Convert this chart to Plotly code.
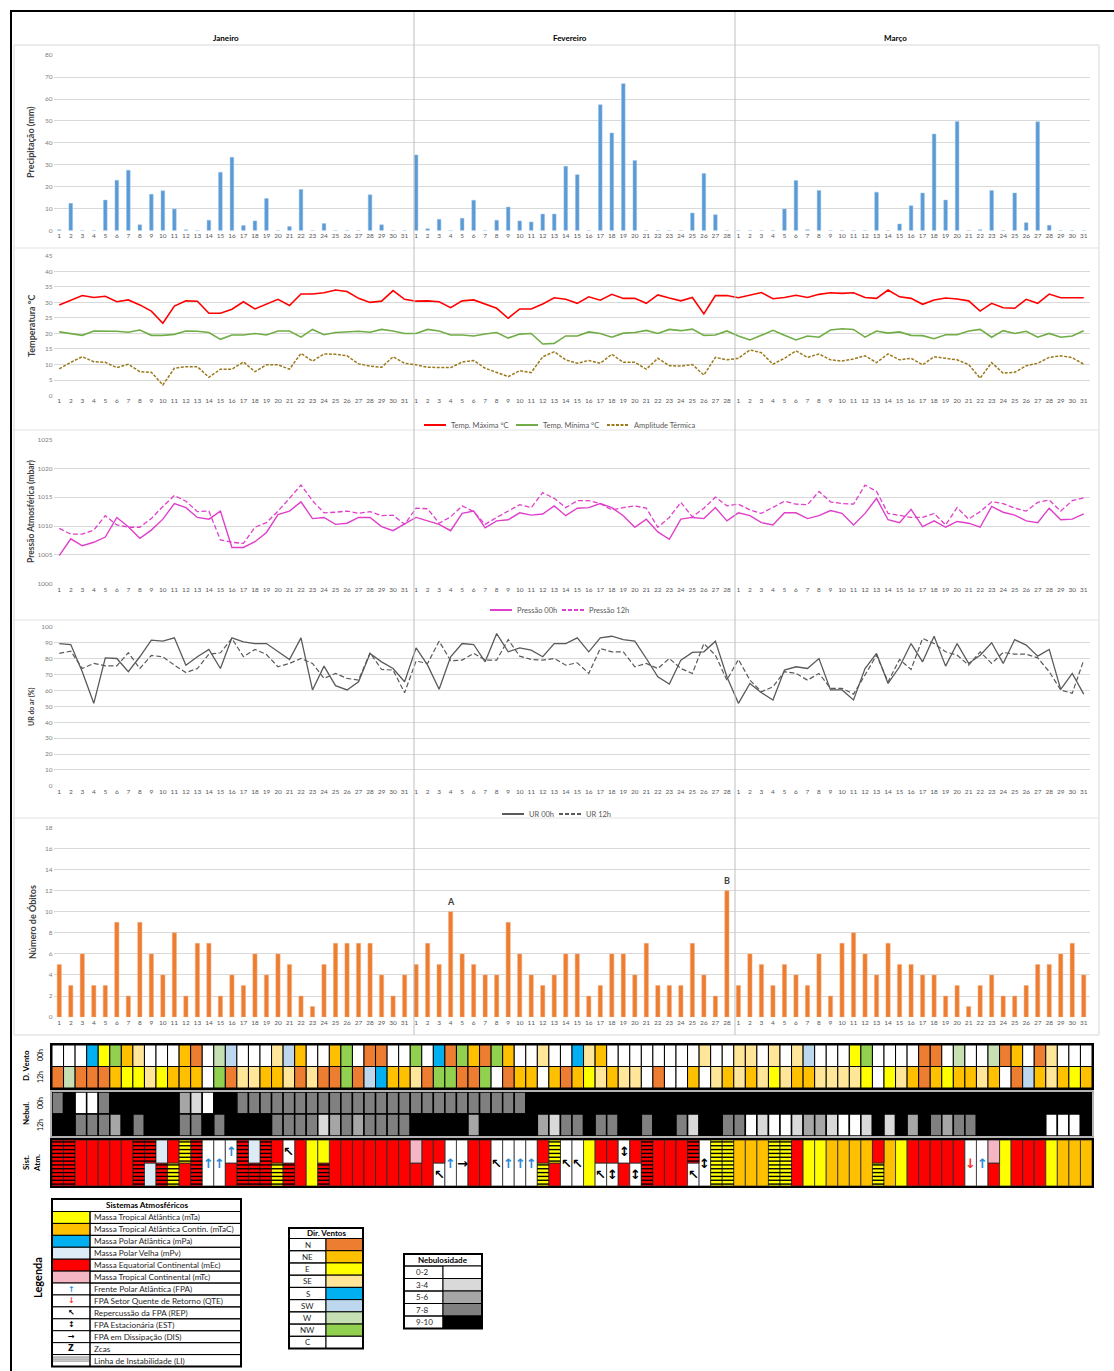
import plotly.graph_objects as go

W, H = 1114, 1371
FONTE = "Lato, 'Open Sans', 'DejaVu Sans', sans-serif"
SIMB = "DejaVu Sans"
CINZA_TXT = "#595959"


def fx(p):
    return p / W


def fy(p):
    return 1 - p / H


# ---------------- dados ----------------
meses = ["Janeiro", "Fevereiro", "Março"]
dias_mes = [31, 28, 31]
dias = [str(d) for n in dias_mes for d in range(1, n + 1)]
idx = list(range(len(dias)))

precipitacao = [
    0.3, 12.4, 0, 0, 13.9, 22.9, 27.5, 2.6, 16.5, 18.1,
    9.8, 0.3, 0, 4.7, 26.6, 33.4, 2.3, 4.4, 14.6, 0,
    1.8, 18.7, 0, 3.2, 0, 0, 0, 16.3, 2.6, 0, 0,
    34.5, 0.8, 5.1, 0, 5.6, 13.8, 0, 4.7, 10.7, 4.4,
    3.9, 7.5, 7.5, 29.3, 25.5, 0, 57.4, 44.5, 67.0, 32.0,
    0, 0, 0, 0, 8.0, 26.0, 7.2, 0,
    0, 0, 0, 0, 9.8, 22.8, 0.4, 18.3, 0, 0,
    0, 0, 17.5, 0, 3.0, 11.3, 17.1, 44.0, 13.9, 49.7,
    0, 0.4, 18.3, 0, 17.1, 3.6, 49.6, 2.4, 0, 0, 0,
]

temp_max = [
    29.2, 30.8, 32.2, 31.6, 32.0, 30.2, 30.8, 29.2, 27.2, 23.3,
    28.8, 30.5, 30.4, 26.5, 26.5, 27.8, 30.2, 27.9, 29.4, 31.0,
    29.0, 32.7, 32.7, 33.1, 34.0, 33.5, 31.3, 30.0, 30.4, 33.8, 31.0,
    30.4, 30.5, 30.2, 28.3, 30.5, 30.8, 29.4, 28.1, 24.9, 27.9,
    27.9, 29.5, 31.5, 31.0, 29.7, 31.8, 30.7, 32.6, 31.3, 31.3,
    29.7, 32.4, 31.4, 30.5, 31.6, 26.3, 32.2, 32.2,
    31.5, 32.3, 33.2, 31.2, 31.6, 32.3, 31.6, 32.6, 33.1, 32.9,
    33.1, 31.6, 31.3, 34.0, 31.8, 31.3, 29.4, 30.8, 31.4, 31.1,
    30.5, 27.2, 29.7, 28.3, 28.1, 31.0, 29.7, 32.7, 31.5, 31.5, 31.5,
]

temp_min = [
    20.5, 19.9, 19.4, 20.8, 20.8, 20.7, 20.4, 21.1, 19.4, 19.4,
    19.7, 20.8, 20.7, 20.3, 18.1, 19.5, 19.5, 20.0, 19.5, 20.8,
    20.8, 18.8, 21.3, 19.6, 20.3, 20.5, 20.7, 20.4, 21.3, 20.8, 20.0,
    20.0, 21.3, 20.8, 19.5, 19.5, 19.2, 19.8, 20.3, 18.5, 19.8,
    20.0, 16.6, 16.8, 19.2, 19.2, 20.5, 20.0, 18.8, 20.1, 20.3,
    21.0, 20.0, 21.3, 20.9, 21.4, 19.4, 19.5, 20.8,
    19.2, 17.9, 19.4, 21.0, 19.4, 17.9, 19.2, 18.8, 21.1, 21.5,
    21.3, 18.8, 20.8, 20.1, 20.5, 19.4, 19.3, 18.3, 19.6, 19.6,
    20.8, 21.3, 18.8, 20.9, 20.0, 20.7, 18.8, 20.0, 18.8, 19.2, 20.9,
]

amplitude = [
    8.6, 10.7, 12.5, 10.9, 10.7, 9.0, 10.1, 7.7, 7.5, 3.4,
    8.8, 9.3, 9.3, 5.9, 8.5, 8.5, 10.8, 7.7, 9.9, 9.9,
    8.5, 13.6, 11.1, 13.4, 13.3, 12.8, 10.2, 9.5, 9.1, 12.5, 10.4,
    9.9, 9.1, 9.0, 9.0, 10.8, 11.3, 8.8, 7.4, 6.1, 8.0,
    7.4, 12.5, 14.1, 11.5, 10.4, 11.3, 10.4, 13.3, 10.7, 10.7,
    8.5, 12.0, 9.6, 9.5, 10.0, 6.6, 12.3, 11.5,
    12.0, 14.7, 13.8, 10.1, 12.0, 14.4, 12.3, 13.4, 11.5, 11.1,
    11.8, 12.8, 10.6, 13.4, 11.5, 12.0, 9.9, 12.5, 12.0, 11.5,
    10.0, 5.6, 10.6, 7.2, 7.5, 9.6, 10.4, 12.3, 12.8, 12.2, 10.1,
]

pressao_00h = [
    1004.9, 1007.8, 1006.6, 1007.2, 1008.1, 1011.5, 1009.9, 1007.9, 1009.3, 1011.2,
    1013.9, 1013.2, 1011.5, 1011.2, 1012.6, 1006.3, 1006.3, 1007.3, 1008.9, 1012.0,
    1012.6, 1014.2, 1011.3, 1011.5, 1010.3, 1010.5, 1011.5, 1011.5, 1009.9, 1009.2, 1010.4,
    1011.5, 1010.9, 1010.3, 1009.2, 1012.2, 1012.6, 1009.7, 1010.9, 1011.1, 1012.3,
    1011.9, 1012.1, 1013.5, 1011.8, 1013.1, 1013.2, 1013.9, 1013.2, 1011.8, 1009.8,
    1011.2, 1009.0, 1007.7, 1011.2, 1011.5, 1011.3, 1013.2, 1010.9,
    1012.3, 1011.8, 1010.6, 1010.2, 1012.3, 1012.3, 1011.3, 1011.8, 1012.7, 1012.2,
    1010.2, 1012.2, 1014.8, 1011.1, 1010.6, 1012.9, 1009.9, 1010.9, 1009.8, 1010.8,
    1010.5, 1009.8, 1013.4, 1012.4, 1011.9, 1010.9, 1010.6, 1013.1, 1011.1, 1011.2, 1012.1,
]

pressao_12h = [
    1009.6, 1008.6, 1008.6, 1009.3, 1011.8, 1010.2, 1009.8, 1009.8, 1011.3, 1013.4,
    1015.3, 1014.3, 1012.5, 1012.6, 1007.6, 1007.2, 1007.0, 1009.8, 1010.6, 1012.6,
    1014.8, 1017.1, 1014.4, 1012.3, 1012.4, 1012.6, 1012.2, 1012.5, 1011.8, 1011.9, 1010.3,
    1013.1, 1013.0, 1010.5, 1011.6, 1013.5, 1012.5, 1010.3, 1011.5, 1012.6, 1013.7,
    1013.2, 1015.8, 1014.8, 1013.2, 1014.4, 1014.4, 1013.9, 1012.8, 1013.2, 1013.5,
    1013.1, 1009.8, 1011.5, 1014.1, 1011.6, 1013.1, 1015.0, 1013.5,
    1013.8, 1012.8, 1012.2, 1013.2, 1014.3, 1013.8, 1013.7, 1016.0, 1014.2, 1013.9,
    1013.8, 1017.1, 1016.0, 1012.2, 1011.8, 1011.5, 1011.5, 1012.2, 1010.2, 1013.2,
    1011.2, 1012.5, 1014.2, 1013.9, 1013.1, 1012.6, 1014.1, 1014.5, 1012.6, 1014.4, 1014.9,
]

ur_00h = [
    89.5, 88.9, 71.8, 51.9, 80.5, 80.1, 71.8, 81.2, 91.6, 91.0,
    93.1, 75.9, 81.2, 85.8, 73.8, 93.1, 90.6, 89.5, 89.5, 84.3,
    79.5, 93.1, 60.3, 75.3, 63.0, 60.3, 65.5, 83.3, 78.0, 73.8, 65.5,
    86.8, 75.9, 60.7, 81.2, 89.5, 88.9, 78.0, 95.8, 84.3, 86.8,
    85.4, 81.2, 89.5, 89.5, 93.1, 84.3, 93.1, 94.1, 92.0, 91.0,
    80.1, 68.6, 64.0, 79.1, 83.9, 84.3, 91.0, 68.6,
    51.9, 64.4, 58.6, 54.0, 72.8, 74.9, 73.8, 80.1, 60.3, 60.3,
    54.0, 73.8, 83.3, 64.4, 74.9, 89.5, 78.0, 94.1, 75.3, 89.5,
    77.0, 82.2, 90.0, 77.0, 92.0, 88.5, 81.6, 85.8, 60.7, 70.7, 57.7,
]

ur_12h = [
    83.3, 84.7, 73.8, 77.0, 75.5, 75.5, 83.7, 73.8, 82.0, 81.2,
    75.9, 71.3, 73.8, 82.8, 83.7, 92.7, 81.2, 85.8, 82.6, 74.9,
    77.0, 80.1, 77.0, 67.6, 70.7, 67.6, 66.5, 83.7, 73.2, 72.8, 58.6,
    78.5, 77.0, 91.0, 78.7, 79.1, 83.3, 79.1, 79.1, 92.0, 81.6,
    79.5, 79.1, 80.1, 75.9, 77.4, 70.7, 86.4, 84.3, 84.3, 74.9,
    77.0, 73.8, 80.1, 73.8, 70.7, 89.5, 82.2, 66.5,
    79.5, 66.5, 59.2, 62.3, 71.8, 70.7, 66.5, 70.7, 61.3, 61.3,
    57.7, 69.7, 82.2, 65.5, 79.5, 73.2, 92.7, 89.5, 84.3, 82.2,
    75.9, 84.3, 77.0, 83.9, 82.8, 82.8, 80.5, 71.8, 60.3, 58.2, 79.1,
]

obitos = [
    5, 3, 6, 3, 3, 9, 2, 9, 6, 4, 8, 2, 7, 7, 2, 4, 3, 6, 4, 6,
    5, 2, 1, 5, 7, 7, 7, 7, 4, 2, 4,
    5, 7, 5, 10, 6, 5, 4, 4, 9, 6, 4, 3, 4, 6, 6, 2, 3, 6, 6, 4,
    7, 3, 3, 3, 7, 4, 2, 12,
    3, 6, 5, 3, 5, 4, 3, 6, 2, 7, 8, 6, 4, 7, 5, 5, 4, 4, 2, 3,
    1, 3, 4, 2, 2, 3, 5, 5, 6, 7, 4,
]

# dias destacados no gráfico de óbitos (rótulo, dia do período)
destaques = [("A", 31 + 4), ("B", 31 + 28)]

vento_00h = (
    "C C C S E NW NE SE C C C NE N C W SW C C C SE SW NE C C NE NW C N N C C "
    "NW C S N NW NE N NW NE C C SE C C S SE NE C C C C C C C C SE C C "
    "SE SE C SE C SE SW C C C E NW C C C C N N C W C C W N NE C N SE C C C"
).split()
vento_12h = (
    "N W N N N NE E E SE E NE NE NE C NW N SE SE NE NE SE N SE N N NW N SW S NE NE "
    "SE N NW NW N N NW C N NE NE C NE N NE E SE NE SE SE C N C C NE C SE NE "
    "SE NE SE E SE NE NE SE SE SE SE E C E SE NE N NE E NE NE SE NE C N SW NE SE NE E NE"
).split()

nebul_00h = (
    ["7-8", "9-10", "0-2", "0-2", "7-8"] + ["9-10"] * 6 + ["5-6", "3-4", "0-2", "9-10", "9-10"]
    + ["7-8"] * 25 + ["9-10"] * 49
)
nebul_12h = (
    "9-10 9-10 7-8 7-8 7-8 5-6 9-10 7-8 9-10 9-10 9-10 7-8 7-8 9-10 7-8 9-10 9-10 9-10 9-10 "
    "7-8 7-8 7-8 7-8 3-4 5-6 7-8 5-6 7-8 7-8 7-8 7-8 9-10 9-10 9-10 9-10 9-10 5-6 "
    "9-10 9-10 9-10 9-10 9-10 5-6 3-4 7-8 7-8 9-10 7-8 7-8 9-10 9-10 7-8 9-10 9-10 7-8 3-4 "
    "9-10 9-10 7-8 7-8 0-2 3-4 0-2 0-2 3-4 5-6 5-6 3-4 0-2 0-2 3-4 9-10 3-4 9-10 5-6 9-10 "
    "7-8 5-6 7-8 7-8 9-10 9-10 9-10 9-10 9-10 9-10 0-2 0-2 0-2 9-10"
).split()

# sistema atmosférico de cada dia: metade superior / metade inferior da célula
sist_topo = (
    "mEc+LI mEc+LI mEc mEc mEc mEc mEc mEc+LI mEc+LI mPv mEc mTa+LI mEc+LI FPA FPA FPA "
    "mEc+LI mPv mEc+LI mEc REP mEc mTa mTa mEc mEc mEc mEc mEc mEc mEc "
    "mTc mEc mEc FPA DIS mEc mEc REP FPA FPA FPA mEc mTa+LI REP REP mTa mEc mEc EST mEc "
    "mEc+LI mEc mEc mEc mEc+LI EST mTa+LI mTa+LI "
    "mTaC mTaC mTaC mTa+LI mTa+LI mEc mTa mTa mTaC mTaC mTaC mTaC mEc mTaC mTa "
    "mEc mEc mEc mEc mEc QTE FPA mTc mTa mEc mEc mEc mTa mTaC mTaC mTaC"
).split()
sist_base = (
    "mEc+LI mEc+LI mEc mEc mEc mEc mEc mEc+LI mPv mEc+LI mTa+LI mEc mEc+LI FPA FPA mEc "
    "mEc+LI mEc+LI mEc+LI mTa+LI mEc+LI mEc mTa mEc+LI mEc mEc mEc mEc mEc mEc mEc "
    "mEc mEc REP FPA DIS mEc mEc REP FPA FPA FPA mTa+LI mEc REP REP mTa REP EST mEc EST "
    "mEc+LI mEc mEc mEc REP EST mTa+LI mTa+LI "
    "mTaC mTaC mTaC mTa+LI mTa+LI mEc mTa mTa mTaC mTaC mTaC mTaC mTa+LI mTaC mTa "
    "mEc mEc mEc mEc mEc QTE FPA mEc mTa mEc mEc mEc mTa mTaC mTaC mTaC"
).split()

cores_vento = {"N": "#ED7D31", "NE": "#FFC000", "E": "#FFFF00", "SE": "#FFE699",
               "S": "#00B0F0", "SW": "#BDD7EE", "W": "#C6E0B4", "NW": "#92D050", "C": "#FFFFFF"}
cores_nebul = {"0-2": "#FFFFFF", "3-4": "#D9D9D9", "5-6": "#A6A6A6", "7-8": "#808080", "9-10": "#000000"}
cores_massa = {"mTa": "#FFFF00", "mTaC": "#FFC000", "mPa": "#00B0F0", "mPv": "#DDEBF7",
               "mEc": "#FF0000", "mTc": "#F4B6C2"}
simbolos = {"FPA": ("↑", "#2E8BD8"), "QTE": ("↓", "#FF2A2A"), "REP": ("↖", "#000000"),
            "EST": ("↕", "#000000"), "DIS": ("→", "#000000"), "Zcas": ("Z", "#000000")}

legenda_sist = [
    ("mTa", "Massa Tropical Atlântica (mTa)"),
    ("mTaC", "Massa Tropical Atlântica Contin. (mTaC)"),
    ("mPa", "Massa Polar Atlântica (mPa)"),
    ("mPv", "Massa Polar Velha (mPv)"),
    ("mEc", "Massa Equatorial Continental (mEc)"),
    ("mTc", "Massa Tropical Continental (mTc)"),
    ("FPA", "Frente Polar Atlântica (FPA)"),
    ("QTE", "FPA Setor Quente de Retorno (QTE)"),
    ("REP", "Repercussão da FPA (REP)"),
    ("EST", "FPA Estacionária (EST)"),
    ("DIS", "FPA em Dissipação (DIS)"),
    ("Zcas", "Zcas"),
    ("LI", "Linha de Instabilidade (LI)"),
]
legenda_vento = ["N", "NE", "E", "SE", "S", "SW", "W", "NW", "C"]
legenda_nebul = ["0-2", "3-4", "5-6", "7-8", "9-10"]

# ---------------- figura ----------------
fig = go.Figure()
shapes, annots = [], []


def rect(x0, y0, x1, y1, fill=None, color="black", width=1, layer="above"):
    shapes.append(dict(type="rect", xref="paper", yref="paper", x0=fx(x0), x1=fx(x1),
                       y0=fy(y1), y1=fy(y0), fillcolor=fill or "rgba(0,0,0,0)",
                       line=dict(color=color, width=width), layer=layer))


def seg(x0, y0, x1, y1, color, width=1, dash="solid"):
    shapes.append(dict(type="line", xref="paper", yref="paper", x0=fx(x0), x1=fx(x1),
                       y0=fy(y0), y1=fy(y1), line=dict(color=color, width=width, dash=dash)))


def texto(x, y, s, size=7, color=CINZA_TXT, bold=False, anchor="center", angle=0, family=FONTE):
    annots.append(dict(xref="paper", yref="paper", x=fx(x), y=fy(y),
                       text=f"<b>{s}</b>" if bold else s, showarrow=False,
                       xanchor=anchor, yanchor="middle", textangle=angle,
                       font=dict(size=size, color=color, family=family)))


# painéis de gráfico: (topo px, base px, faixa, passo)
X0, X1 = 53.5, 1089.5
paineis = [
    (55.0, 230.7, [0, 80], 10),
    (255.7, 395.7, [0, 45], 5),
    (439.3, 584.0, [1000, 1025], 5),
    (626.7, 786.0, [0, 100], 10),
    (827.3, 1017.3, [0, 18], 2),
]
eixos = {}
for n, (top, bot, rng, dt) in enumerate(paineis, start=1):
    sx = "" if n == 1 else str(n)
    span = rng[1] - rng[0]
    eixos[f"xaxis{sx}"] = dict(
        domain=[fx(X0), fx(X1)], anchor=f"y{sx}", range=[-0.5, len(idx) - 0.5],
        tickmode="array", tickvals=idx, ticktext=dias, tickangle=0,
        tickfont=dict(size=6.5, color=CINZA_TXT, family=FONTE),
        showgrid=False, zeroline=False, showline=False, ticks="", fixedrange=True)
    eixos[f"yaxis{sx}"] = dict(
        domain=[fy(bot), fy(top)], anchor=f"x{sx}",
        range=[rng[0] - span * 0.001, rng[1] + span * 0.001],
        tick0=rng[0], dtick=dt, gridcolor="#D9D9D9", gridwidth=1,
        zeroline=False, showline=False, ticks="",
        tickfont=dict(size=6.5, color="#7F7F7F", family=FONTE), fixedrange=True)

# faixas de células (vento, nebulosidade, sistemas)
eixos["xaxis6"] = dict(domain=[fx(52), fx(1092)], anchor="y6", range=[-0.5, len(idx) - 0.5],
                       visible=False, fixedrange=True)
for n, (top, bot) in zip((6, 7, 8), ((1045, 1088), (1092, 1136), (1140, 1186))):
    eixos[f"yaxis{n}"] = dict(domain=[fy(bot), fy(top)], anchor="x6", range=[0, 2],
                              visible=False, fixedrange=True)

# --- precipitação
fig.add_trace(go.Bar(x=idx, y=precipitacao, xaxis="x", yaxis="y", width=0.32,
                     marker=dict(color="#5B9BD5", line=dict(color="#9DC3E6", width=0.5))))
# --- temperatura
fig.add_trace(go.Scatter(x=idx, y=temp_max, xaxis="x2", yaxis="y2", mode="lines",
                         line=dict(color="#FF0000", width=1.6)))
fig.add_trace(go.Scatter(x=idx, y=temp_min, xaxis="x2", yaxis="y2", mode="lines",
                         line=dict(color="#70AD47", width=1.6)))
fig.add_trace(go.Scatter(x=idx, y=amplitude, xaxis="x2", yaxis="y2", mode="lines",
                         line=dict(color="#9C7A1C", width=1.5, dash="3px,1.5px")))
# --- pressão
fig.add_trace(go.Scatter(x=idx, y=pressao_00h, xaxis="x3", yaxis="y3", mode="lines",
                         line=dict(color="#E03FCB", width=1.4)))
fig.add_trace(go.Scatter(x=idx, y=pressao_12h, xaxis="x3", yaxis="y3", mode="lines",
                         line=dict(color="#E03FCB", width=1.3, dash="5px,2.5px")))
# --- umidade relativa
fig.add_trace(go.Scatter(x=idx, y=ur_00h, xaxis="x4", yaxis="y4", mode="lines",
                         line=dict(color="#5A5A5A", width=1.3)))
fig.add_trace(go.Scatter(x=idx, y=ur_12h, xaxis="x4", yaxis="y4", mode="lines",
                         line=dict(color="#5A5A5A", width=1.2, dash="5px,2.5px")))
# --- óbitos
fig.add_trace(go.Bar(x=idx, y=obitos, xaxis="x5", yaxis="y5", width=0.37,
                     marker=dict(color="#ED7D31", line=dict(color="#F4B183", width=0.5))))
for rot, dia in destaques:
    annots.append(dict(xref="x5", yref="y5", x=dia - 1, y=obitos[dia - 1], text=f"<b>{rot}</b>",
                       showarrow=False, yanchor="bottom", yshift=3,
                       font=dict(size=9, color="#404040", family=FONTE)))

# --- direção do vento (00h em cima, 12h embaixo)
for serie, base in ((vento_00h, 1), (vento_12h, 0)):
    fig.add_trace(go.Bar(x=idx, y=[1] * len(idx), base=base, width=1, xaxis="x6", yaxis="y6",
                         marker=dict(color=[cores_vento[v] for v in serie],
                                     line=dict(color="#000000", width=1))))
# --- nebulosidade
for serie, base in ((nebul_00h, 1), (nebul_12h, 0)):
    fig.add_trace(go.Bar(x=idx, y=[1] * len(idx), base=base, width=1, xaxis="x6", yaxis="y7",
                         marker=dict(color=[cores_nebul[v] for v in serie],
                                     line=dict(color="#000000", width=1.5))))


# --- sistemas atmosféricos
def cor_sist(cod):
    return cores_massa.get(cod.split("+")[0], "#FFFFFF")


inteira = [t == b for t, b in zip(sist_topo, sist_base)]
fig.add_trace(go.Bar(
    x=idx, y=[2 if f else 1 for f in inteira], base=0, width=1, xaxis="x6", yaxis="y8",
    marker=dict(color=[cor_sist(c) for c in sist_base], line=dict(color="#2A2A2A", width=0.8))))
fig.add_trace(go.Bar(
    x=idx, y=[None if f else 1 for f in inteira], base=1, width=1, xaxis="x6", yaxis="y8",
    marker=dict(color=[cor_sist(c) for c in sist_topo], line=dict(color="#2A2A2A", width=0.8))))

LINHAS_MEIA = 6  # traços horizontais da linha de instabilidade por meia célula
for i, (t, b) in enumerate(zip(sist_topo, sist_base)):
    partes = [(t, 0.0, 2.0)] if t == b else [(t, 1.0, 1.0), (b, 0.0, 1.0)]
    for cod, y_ini, alt in partes:
        if cod.endswith("+LI"):
            n_lin = int(LINHAS_MEIA * alt)
            for k in range(n_lin):
                yl = y_ini + alt * (k + 0.5) / n_lin
                shapes.append(dict(type="line", xref="x6", yref="y8", x0=i - 0.5, x1=i + 0.5,
                                   y0=yl, y1=yl, line=dict(color="#000000", width=1.4)))
        if cod in simbolos:
            g, c = simbolos[cod]
            annots.append(dict(xref="x6", yref="y8", x=i, y=y_ini + alt / 2, text=f"<b>{g}</b>",
                               showarrow=False, font=dict(size=13, color=c, family=SIMB)))

# molduras das faixas
rect(51, 1044, 1093, 1089, width=2)
rect(51, 1091, 1093, 1137, color="#9A9A9A", width=1.5)
rect(51, 1139, 1093, 1187, width=2)

# rótulos das faixas
texto(26, 1066, "D. Vento", size=8, color="#000000", bold=True, angle=-90)
texto(40, 1055, "00h", size=7, color="#000000", angle=-90)
texto(40, 1077, "12h", size=7, color="#000000", angle=-90)
texto(26, 1114, "Nebul.", size=8, color="#000000", bold=True, angle=-90)
texto(40, 1103, "00h", size=7, color="#000000", angle=-90)
texto(40, 1125, "12h", size=7, color="#000000", angle=-90)
texto(26, 1163, "Sist.", size=8, color="#000000", bold=True, angle=-90)
texto(37, 1163, "Atm.", size=8, color="#000000", bold=True, angle=-90)

# ---------------- molduras gerais ----------------
seg(10, 11, 1114, 11, "#000000", 2)
seg(11, 10, 11, 1371, "#000000", 2)
rect(14, 45, 1099, 1035, color="#D9D9D9", width=1, layer="below")
for yb in (248, 430, 620, 818):
    seg(14, yb, 1099, yb, "#E3E3E3", 1)
for xm in (414, 735):
    seg(xm, 12, xm, 1035, "#BFBFBF", 1)

# títulos dos meses
for nome, xm in zip(meses, (226, 570, 895)):
    texto(xm, 38, nome, size=8, color="#000000", bold=True)

# títulos dos eixos y
texto(31, 142, "Precipitação (mm)", size=9, color="#404040", bold=True, angle=-90)
texto(31, 326, "Temperatura °C", size=9, color="#404040", bold=True, angle=-90)
texto(31, 511, "Pressão Atmosférica (mbar)", size=8.5, color="#404040", bold=True, angle=-90)
texto(31, 707, "UR do ar (%)", size=7, color="#404040", bold=True, angle=-90)
texto(32, 922, "Número de Óbitos", size=9, color="#404040", bold=True, angle=-90)


# legendas das séries
def item_leg(x, y, cor, dash, rotulo, larg=2):
    seg(x, y, x + 22, y, cor, larg, dash)
    texto(x + 25, y, rotulo, size=7.5, color=CINZA_TXT, anchor="left")


item_leg(424, 425, "#FF0000", "solid", "Temp. Máxima °C")
item_leg(516, 425, "#70AD47", "solid", "Temp. Mínima °C")
item_leg(607, 425, "#9C7A1C", "3px,1.5px", "Amplitude Térmica")
item_leg(490, 610, "#E03FCB", "solid", "Pressão 00h")
item_leg(562, 610, "#E03FCB", "4px,2px", "Pressão 12h")
item_leg(502, 814, "#5A5A5A", "solid", "UR 00h")
item_leg(559, 814, "#5A5A5A", "4px,2px", "UR 12h")

# ---------------- tabelas de legenda ----------------
texto(37, 1278, "Legenda", size=11, color="#000000", bold=True, angle=-90)

# sistemas atmosféricos
lx0, lxc, lx1, ly0, lt = 52, 90, 241, 1199, 1211.5
lh = (1366.5 - lt) / len(legenda_sist)
rect(lx0, ly0, lx1, lt, fill="#FFFFFF", width=1)
texto((lx0 + lx1) / 2, (ly0 + lt) / 2, "Sistemas Atmosféricos", size=8.2, color="#000000", bold=True)
for k, (cod, rot) in enumerate(legenda_sist):
    y0 = lt + k * lh
    y1 = y0 + lh
    rect(lx0, y0, lxc, y1, fill=cores_massa.get(cod, "#FFFFFF"), width=1)
    rect(lxc, y0, lx1, y1, width=1)
    texto(lxc + 2, (y0 + y1) / 2, rot, size=8.2, color="#262626", anchor="left")
    if cod in simbolos:
        g, c = simbolos[cod]
        texto((lx0 + lxc) / 2, (y0 + y1) / 2, f"<b>{g}</b>", size=8, color=c, family=SIMB)
    if cod == "LI":
        for dy in (2.5, 4.5, 6.5):
            seg(lx0 + 1, y0 + dy, lxc - 1, y0 + dy, "#7F7F7F", 1)
rect(lx0, ly0, lx1, 1366.5, width=2)

# direção dos ventos
vx0, vxc, vx1, vy0, vt = 289, 326, 363, 1228, 1238.5
vh = (1348.5 - vt) / len(legenda_vento)
rect(vx0, vy0, vx1, vt, fill="#FFFFFF", width=1)
texto((vx0 + vx1) / 2, (vy0 + vt) / 2, "Dir. Ventos", size=8, color="#000000", bold=True)
for k, cod in enumerate(legenda_vento):
    y0 = vt + k * vh
    y1 = y0 + vh
    rect(vx0, y0, vxc, y1, width=1)
    rect(vxc, y0, vx1, y1, fill=cores_vento[cod], width=1)
    texto((vx0 + vxc) / 2, (y0 + y1) / 2, cod, size=8, color="#262626")
rect(vx0, vy0, vx1, 1348.5, width=2)

# nebulosidade
nx0, nxc, nx1, ny0, nt = 404, 443, 482, 1254, 1266
nh = (1328.5 - nt) / len(legenda_nebul)
rect(nx0, ny0, nx1, nt, fill="#FFFFFF", width=1)
texto((nx0 + nx1) / 2, (ny0 + nt) / 2, "Nebulosidade", size=8, color="#000000", bold=True)
for k, cod in enumerate(legenda_nebul):
    y0 = nt + k * nh
    y1 = y0 + nh
    rect(nx0, y0, nxc, y1, width=1)
    rect(nxc, y0, nx1, y1, fill=cores_nebul[cod], width=1)
    texto(nx0 + 10, (y0 + y1) / 2, cod, size=8, color="#262626", anchor="left")
rect(nx0, ny0, nx1, 1328.5, width=2)

fig.update_layout(
    width=W, height=H, margin=dict(l=0, r=0, t=0, b=0, autoexpand=False),
    paper_bgcolor="#FFFFFF", plot_bgcolor="#FFFFFF",
    barmode="overlay", showlegend=False,
    font=dict(family=FONTE, size=7, color=CINZA_TXT),
    shapes=shapes, annotations=annots, **eixos,
)

fig.write_html("out.html")
